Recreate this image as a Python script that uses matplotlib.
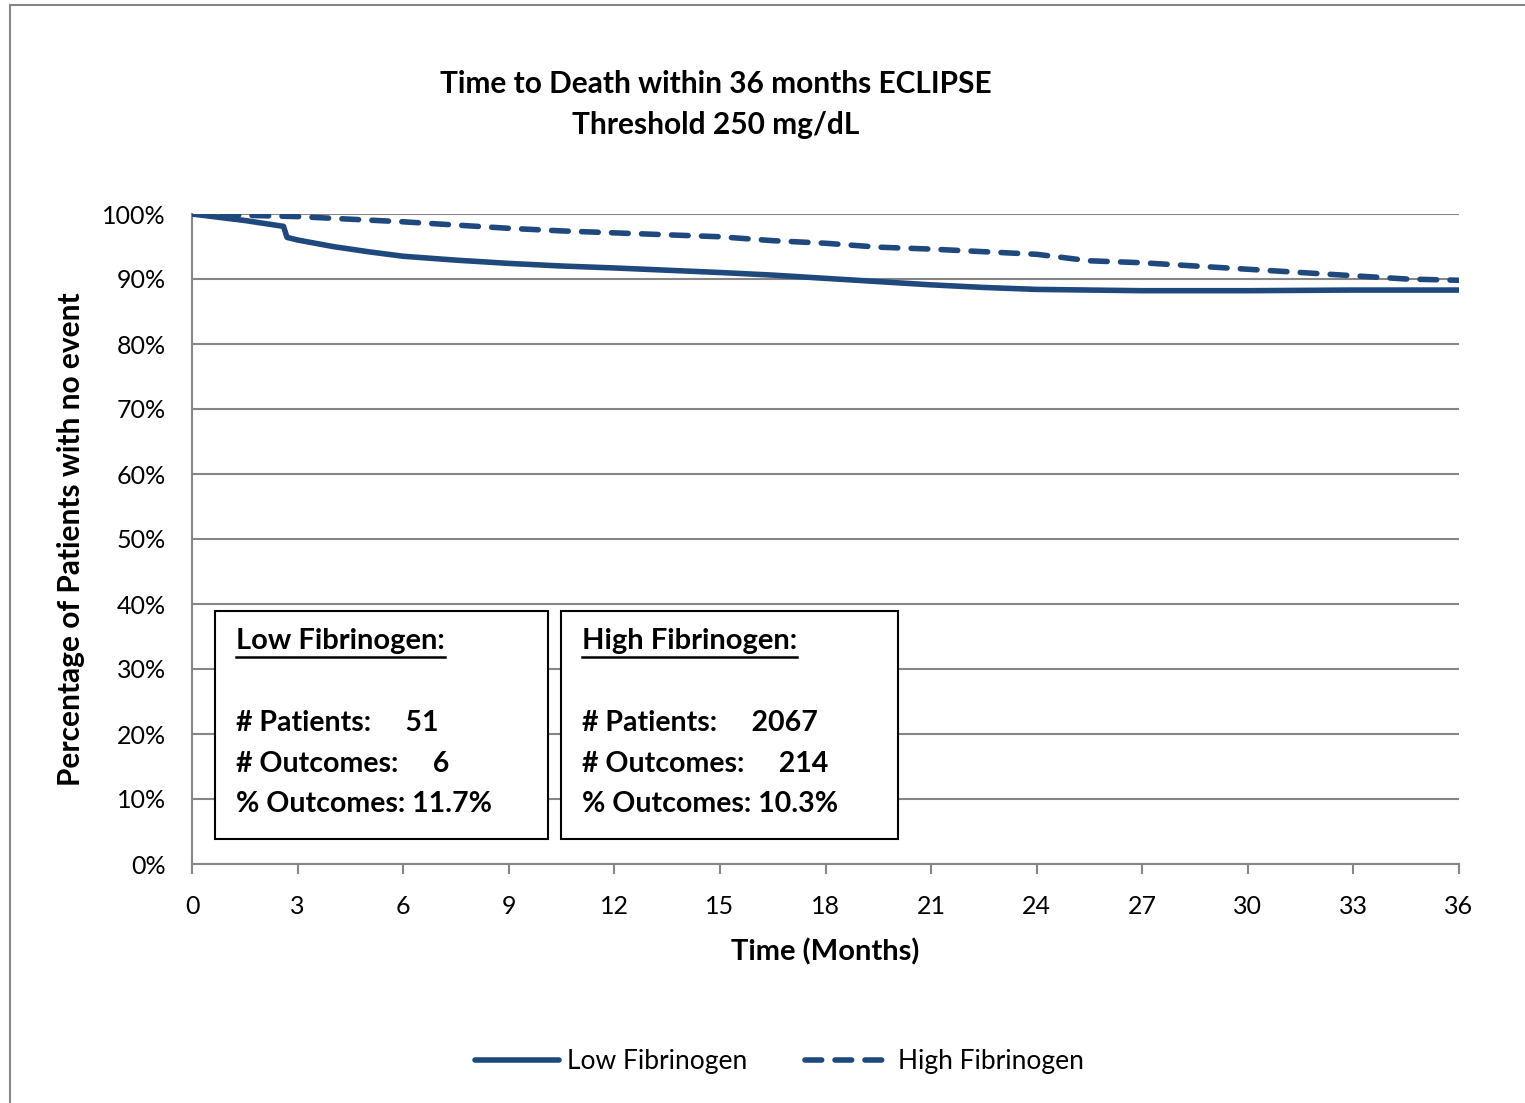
import matplotlib
matplotlib.use("Agg")
import matplotlib.pyplot as plt
from matplotlib.patches import Rectangle
from matplotlib.ticker import FuncFormatter

# data
months_low = [0, 1.5, 2.6, 2.7, 3, 4, 5, 6, 7.5, 9, 10.5, 12, 13.5, 15, 16.5, 18,
              19.5, 21, 22.5, 24, 27, 30, 33, 36]
low_fib = [100, 99.0, 98.1, 96.4, 96.0, 95.0, 94.2, 93.5, 92.9, 92.4, 92.0, 91.7,
           91.35, 91.0, 90.6, 90.1, 89.6, 89.1, 88.7, 88.4, 88.2, 88.2, 88.3, 88.3]

months_high = [0, 1.5, 3, 4.5, 6, 7.5, 9, 10.5, 12, 13.5, 15, 16.5, 18, 19.5, 21,
               22.5, 24, 25.5, 27, 28.5, 30, 31.5, 33, 34.5, 36]
high_fib = [100, 99.8, 99.6, 99.2, 98.8, 98.3, 97.8, 97.4, 97.1, 96.8, 96.5, 95.9,
            95.5, 94.9, 94.6, 94.2, 93.8, 92.8, 92.5, 92.0, 91.5, 91.0, 90.5, 90.0, 89.8]

x_ticks = list(range(0, 37, 3))
y_ticks = list(range(0, 101, 10))

low_box = ["# Patients:     51", "# Outcomes:     6", "% Outcomes: 11.7%"]
high_box = ["# Patients:     2067", "# Outcomes:     214", "% Outcomes: 10.3%"]

BLUE = "#1F497D"
GRAY = "#868686"
plt.rcParams['font.family'] = ['Lato', 'DejaVu Sans']

fig = plt.figure(figsize=(15.25, 11.03), dpi=100)
W, H = 1525, 1103

def fx(px):
    return px / W

def fy(py):
    return 1 - py / H

# outer chart border
fig.patches.append(Rectangle((fx(10), fy(1110)), fx(1530) - fx(10), fy(5) - fy(1110),
                             transform=fig.transFigure, fill=False, edgecolor=GRAY, lw=1.5))

ax = fig.add_axes([fx(192), fy(864), fx(1459) - fx(192), fy(214) - fy(864)])

ax.plot(months_low, low_fib, color=BLUE, lw=4, solid_capstyle='round',
        solid_joinstyle='round', label="Low Fibrinogen", zorder=4)
ax.plot(months_high, high_fib, color=BLUE, lw=4, linestyle=(0, (3.0, 2.4)),
        dash_capstyle='round', label="High Fibrinogen", zorder=4)

ax.set_xlim(0, 36)
ax.set_ylim(0, 100)
ax.set_xticks(x_ticks)
ax.set_yticks(y_ticks)
ax.yaxis.set_major_formatter(FuncFormatter(lambda v, p: f"{int(v)}%"))
ax.grid(axis='y', color=GRAY, lw=1.5)
ax.set_axisbelow(True)
for s in ['top', 'right']:
    ax.spines[s].set_visible(False)
for s in ['left', 'bottom']:
    ax.spines[s].set_color(GRAY)
    ax.spines[s].set_linewidth(1.5)
ax.tick_params(axis='x', colors=GRAY, length=7, width=1.5, labelsize=18,
               labelcolor='black', pad=15)
ax.tick_params(axis='y', length=0, labelsize=18, labelcolor='black', pad=19)

ax.set_xlabel("Time (Months)", fontsize=21, fontweight='bold', labelpad=15)
ax.set_ylabel("Percentage of Patients with no event", fontsize=21.5,
              fontweight='bold', labelpad=12)

fig.text(fx(716), fy(84), "Time to Death within 36 months ECLIPSE", ha='center',
         va='center', fontsize=21.5, fontweight='bold')
fig.text(fx(716), fy(125), "Threshold 250 mg/dL", ha='center', va='center',
         fontsize=21.5, fontweight='bold')

# stats boxes
for (x0, x1, head, rows) in [(215, 548, "Low Fibrinogen:", low_box),
                              (561, 898, "High Fibrinogen:", high_box)]:
    fig.patches.append(Rectangle((fx(x0), fy(839)), fx(x1) - fx(x0), fy(611) - fy(839),
                                 transform=fig.transFigure, facecolor='white',
                                 edgecolor='black', lw=1.5, zorder=5))
    t = fig.text(fx(x0 + 21), fy(641), head, ha='left', va='center', fontsize=21,
                 fontweight='bold', zorder=6)
    fig.canvas.draw()
    bb = t.get_window_extent()
    fig.add_artist(plt.Line2D([bb.x0 / W, bb.x1 / W], [fy(657), fy(657)],
                              transform=fig.transFigure, color='black', lw=1.8, zorder=6))
    for i, r in enumerate(rows):
        fig.text(fx(x0 + 21), fy(723 + 40.5 * i), r, ha='left', va='center',
                 fontsize=20.5, fontweight='bold', zorder=6)

fig.legend(loc='center', bbox_to_anchor=(fx(779), fy(1062)), ncol=2, frameon=False,
           fontsize=19, handlelength=3.2, columnspacing=2.2, handletextpad=0.3)

fig.savefig("out.png", dpi=100)
